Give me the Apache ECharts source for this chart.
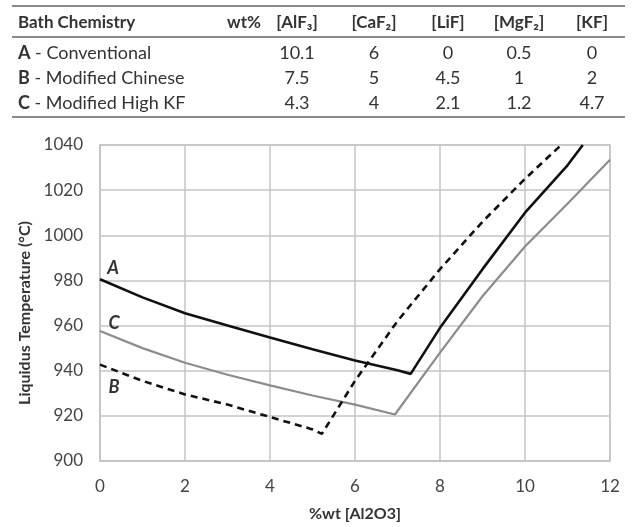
<!DOCTYPE html>
<html>
<head>
<meta charset="utf-8">
<script src="https://cdn.jsdelivr.net/npm/echarts@6/dist/echarts.min.js"></script>
<style>
	html, body { margin: 0; padding: 0; background: #fff; }
	#chart { width: 633px; height: 527px; }
</style>
</head>
<body>
<div id="chart"></div>
<script>
/*
 * 표 데이터 (bath chemistry, wt%)
 */
var tableHeaders = ['[AlF\u2083]', '[CaF\u2082]', '[LiF]', '[MgF\u2082]', '[KF]'];
var bathCodes = ['A', 'B', 'C'];
var bathNames = ['Conventional', 'Modified Chinese', 'Modified High KF'];
var rowA = ['10.1', '6', '0', '0.5', '0'];
var rowB = ['7.5', '5', '4.5', '1', '2'];
var rowC = ['4.3', '4', '2.1', '1.2', '4.7'];

/*
 * 곡선 데이터 (%wt Al2O3 -> liquidus temperature)
 */
var aX = [0, 1, 2, 3, 4, 5, 6, 7, 7.31, 8, 9, 10, 11, 11.36];
var aY = [980.5, 972.5, 965.5, 960, 954.7, 949.5, 944.5, 940.2, 938.6, 959, 985, 1010, 1031, 1040];
var bX = [0, 1, 2, 3, 4, 5, 5.22, 6, 7, 8, 9, 10, 10.85];
var bY = [942.7, 935.5, 929.5, 925, 919.5, 914, 912, 935.5, 962, 985, 1006, 1025, 1040];
var cX = [0, 1, 2, 3, 4, 5, 6, 6.94, 8, 9, 10, 11, 12];
var cY = [957.6, 950, 943.5, 938.2, 933.5, 929, 925, 920.6, 948, 973, 995, 1014, 1033.5];

var xTicks = [0, 2, 4, 6, 8, 10, 12];
var yTicks = [900, 920, 940, 960, 980, 1000, 1020, 1040];

var FONT = 'Lato, "DejaVu Sans", sans-serif';
var GRID_COLOR = '#c4c4c4';

// x, y 배열을 [x, y] 쌍으로 묶고 첫 점에 곡선 이름 라벨을 붙인다.
function buildData(xs, ys, name, offset){
	var data = [];
	for(var i = 0; i < xs.length; i++){
		var item = { value : [xs[i], ys[i]] };
		if(i == 0){
			item.label = {
				show : true,
				formatter : name,
				position : 'inside',
				offset : offset,
				fontFamily : FONT,
				fontStyle : 'italic',
				fontWeight : 'bold',
				fontSize : 18,
				color : '#333'
			};
		}
		data.push(item);
	}
	return data;
}

// 표를 graphic 요소로 만든다.
function buildTable(){
	var els = [];
	var colX = [297, 374, 448, 519, 592];
	var rowY = [53, 78, 103];
	var rows = [rowA, rowB, rowC];
	var lineYs = [6, 37, 117];
	for(var l = 0; l < lineYs.length; l++){
		els.push({
			type : 'line',
			shape : { x1 : 12, y1 : lineYs[l], x2 : 625, y2 : lineYs[l] },
			style : { stroke : '#8a8a8a', lineWidth : 2 }
		});
	}
	var headStyle = { fontFamily : FONT, fontWeight : 'bold', fontSize : 17, fill : '#333', verticalAlign : 'middle' };
	els.push({ type : 'text', x : 18, y : 23, style : Object.assign({ text : 'Bath Chemistry', align : 'left' }, headStyle) });
	els.push({ type : 'text', x : 261, y : 23, style : Object.assign({ text : 'wt%', align : 'right' }, headStyle) });
	for(var h = 0; h < tableHeaders.length; h++){
		els.push({ type : 'text', x : colX[h], y : 23, style : Object.assign({ text : tableHeaders[h], align : 'center' }, headStyle) });
	}
	for(var r = 0; r < rows.length; r++){
		els.push({
			type : 'text', x : 18, y : rowY[r],
			style : {
				text : '{b|' + bathCodes[r] + '} - ' + bathNames[r],
				fontFamily : FONT, fontSize : 18, fill : '#333', align : 'left', verticalAlign : 'middle',
				rich : { b : { fontFamily : FONT, fontSize : 18, fontWeight : 'bold', fill : '#333' } }
			}
		});
		for(var c = 0; c < rows[r].length; c++){
			els.push({
				type : 'text', x : colX[c], y : rowY[r],
				style : { text : rows[r][c], fontFamily : FONT, fontSize : 18, fill : '#333', align : 'center', verticalAlign : 'middle' }
			});
		}
	}
	return els;
}

var myChart = echarts.init(document.getElementById('chart'), null, { renderer : 'canvas' });

var option = {
	animation : false,
	backgroundColor : '#fff',
	grid : {
		left : 100, right : 23, top : 145, bottom : 63,
		show : true, borderColor : GRID_COLOR, borderWidth : 1.5
	},
	graphic : buildTable(),
	xAxis : {
		type : 'value',
		min : xTicks[0], max : xTicks[xTicks.length - 1], interval : 2,
		name : '%wt [Al2O3]',
		nameLocation : 'middle', nameGap : 45,
		nameTextStyle : { fontFamily : FONT, fontWeight : 'bold', fontSize : 16, color : '#333' },
		axisLine : { lineStyle : { color : GRID_COLOR, width : 1.5 } },
		axisTick : { show : false },
		axisLabel : { fontFamily : FONT, fontSize : 17, color : '#444', margin : 17 },
		splitLine : { lineStyle : { color : GRID_COLOR, width : 1.5 } }
	},
	yAxis : {
		type : 'value',
		min : yTicks[0], max : yTicks[yTicks.length - 1], interval : 20,
		name : 'Liquidus Temperature (\u00b0C)',
		nameLocation : 'middle', nameGap : 50, nameRotate : 90,
		nameTextStyle : { fontFamily : FONT, fontWeight : 'bold', fontSize : 16, color : '#333', padding : [0, 20, 0, 0] },
		axisLine : { show : true, lineStyle : { color : GRID_COLOR, width : 1.5 } },
		axisTick : { show : false },
		axisLabel : {
			fontFamily : FONT, fontSize : 17, color : '#444', margin : 17,
			formatter : function(v){ return String(v); }
		},
		splitLine : { lineStyle : { color : GRID_COLOR, width : 1.5 } }
	},
	series : [
		{
			name : 'A', type : 'line', symbol : 'circle', symbolSize : 0, showSymbol : true,
			lineStyle : { color : '#111', width : 2.6 }, itemStyle : { color : '#111' },
			data : buildData(aX, aY, 'A', [13, -11]), z : 4
		},
		{
			name : 'C', type : 'line', symbol : 'circle', symbolSize : 0, showSymbol : true,
			lineStyle : { color : '#8c8c8c', width : 2.2 }, itemStyle : { color : '#8c8c8c' },
			data : buildData(cX, cY, 'C', [14, -8]), z : 3
		},
		{
			name : 'B', type : 'line', symbol : 'circle', symbolSize : 0, showSymbol : true,
			lineStyle : { color : '#111', width : 2.6, type : [7, 5] }, itemStyle : { color : '#111' },
			data : buildData(bX, bY, 'B', [14, 23]), z : 5
		}
	]
};
myChart.setOption(option);
</script>
</body>
</html>
